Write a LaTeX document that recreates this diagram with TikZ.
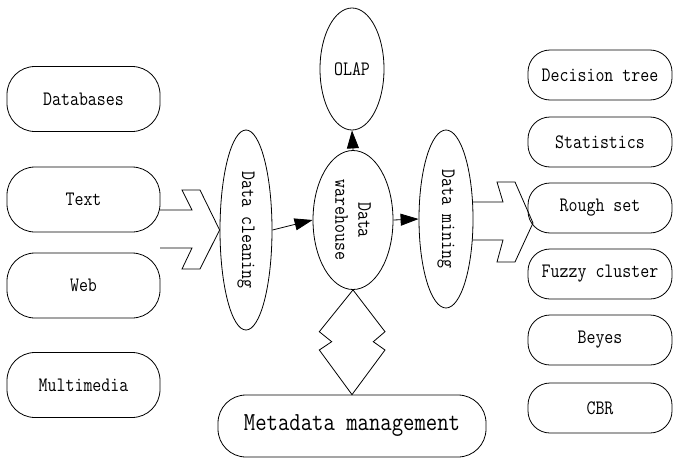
\documentclass[tikz,border=0pt]{standalone}
\usepackage{fontspec}
\setmonofont{Latin Modern Mono}[FakeStretch=0.85]
\usetikzlibrary{arrows.meta,shapes.geometric}
\begin{document}
\begin{tikzpicture}[x=1pt,y=-1pt,
  every node/.style={font=\ttfamily\fontsize{20.5}{23}\selectfont, line width=0.8pt},
  lbox/.style={draw, rectangle, rounded corners=28pt, minimum width=153pt, minimum height=65pt, inner sep=0pt},
  rbox/.style={draw, rectangle, rounded corners=22pt, minimum width=144pt, minimum height=50pt, inner sep=0pt},
  ell/.style={draw, ellipse, inner sep=0pt},
  arr/.style={-{Triangle[length=18pt,width=12pt]}, line width=0.8pt},
  hollow/.style={draw, line width=0.8pt, line join=miter}]
\useasboundingbox (0,0) rectangle (674,463);
% left sources
\node[lbox] (db)  at (83.5,99)   {Databases};
\node[lbox] (txt) at (83.5,199.5){Text};
\node[lbox] (web) at (83.5,285.5){Web};
\node[lbox] (mm)  at (83.5,385)  {Multimedia};
% right methods
\node[rbox] (dt)  at (600,75)  {Decision tree};
\node[rbox] (st)  at (600,142) {Statistics};
\node[rbox] (rs)  at (600,208) {Rough set};
\node[rbox] (fc)  at (600,274) {Fuzzy cluster};
\node[rbox] (by)  at (600,340) {Beyes};
\node[rbox] (cbr) at (600,408) {CBR};
% center
\node[ell, minimum width=64pt, minimum height=122pt] (olap) at (352,69) {OLAP};
\node[ell, minimum width=52pt, minimum height=200pt] (dc) at (246,230) {};
\node[rotate=-90] (dct) at (dc) {Data cleaning};
\node[ell, minimum width=80pt, minimum height=139pt] (dw) at (353,220) {};
\node[rotate=-90, align=center] (dwt) at (dw) {Data\\warehouse};
\node[ell, minimum width=54pt, minimum height=178pt] (dm) at (446,219) {};
\node[rotate=-90] (dmt) at (dm) {Data mining};
\node[draw, rounded corners=28pt, minimum width=268pt, minimum height=62pt, inner sep=0pt] (meta) at (352,426) {\fontsize{26}{30}\selectfont Metadata management};
% arrows
\draw[arr] (dw.north) -- (olap.south);
\draw[arr] (dc.east) -- (dw.west);
\draw[arr] (dw.east) -- (dm.west);
% hollow arrows
\draw[hollow] (160,210) -- (192,210) -- (182,190) -- (200,190) -- (dc.west) -- (200,269) -- (182,269) -- (192,248) -- (160,248);
\draw[hollow] (472,202) -- (503,202) -- (497,182) -- (515,182) -- (533,223) -- (515,262) -- (497,262) -- (503,240) -- (472,240);
% diamond
\draw[hollow] (dw.south) -- (319.3,331.7) -- (331.7,341.7) -- (319.3,350) -- (meta.north) -- (385,350) -- (373.3,341.7) -- (385,331.7) -- cycle;
\end{tikzpicture}
\end{document}
